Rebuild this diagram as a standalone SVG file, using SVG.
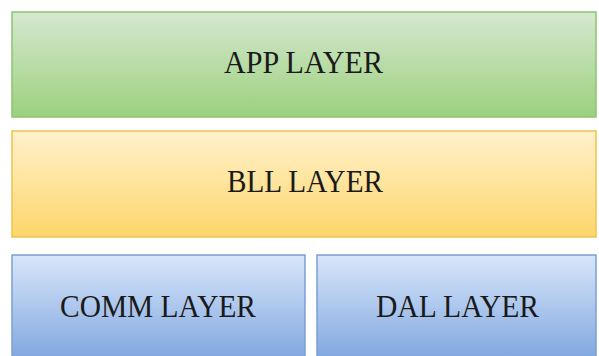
<svg xmlns="http://www.w3.org/2000/svg" width="599" height="356" viewBox="0 0 599 356">
<defs>
<linearGradient id="gG" x1="0" y1="0" x2="0" y2="1"><stop offset="0" stop-color="#d5e8d0"/><stop offset="1" stop-color="#9cd07e"/></linearGradient>
<linearGradient id="gY" x1="0" y1="0" x2="0" y2="1"><stop offset="0" stop-color="#fff1cc"/><stop offset="1" stop-color="#fdd66a"/></linearGradient>
<linearGradient id="gB" x1="0" y1="0" x2="0" y2="1"><stop offset="0" stop-color="#d8e6fa"/><stop offset="1" stop-color="#7fa6df"/></linearGradient>
</defs>
<style>
text{font-family:"Liberation Serif","Times New Roman",serif;font-size:31px;fill:#1a1a1a}
.g{fill:url(#gG);stroke:#8cc46f;stroke-width:1.5}
.y{fill:url(#gY);stroke:#efc14f;stroke-width:1.5}
.b{fill:url(#gB);stroke:#7c9ed3;stroke-width:1.5}
</style>
<rect width="599" height="356" fill="#fff"/>
<g id="app"><rect class="g" x="12" y="12" width="584" height="105"/><text x="224" y="73" textLength="159" lengthAdjust="spacingAndGlyphs">APP LAYER</text></g>
<g id="bll"><rect class="y" x="12" y="131" width="584" height="106"/><text x="227" y="192" textLength="156" lengthAdjust="spacingAndGlyphs">BLL LAYER</text></g>
<g id="comm"><rect class="b" x="12" y="255" width="293" height="106"/><text x="60" y="317" textLength="196" lengthAdjust="spacingAndGlyphs">COMM LAYER</text></g>
<g id="dal"><rect class="b" x="317" y="255" width="279" height="106"/><text x="376" y="317" textLength="163" lengthAdjust="spacingAndGlyphs">DAL LAYER</text></g>
<g id="connectors"/>
</svg>
